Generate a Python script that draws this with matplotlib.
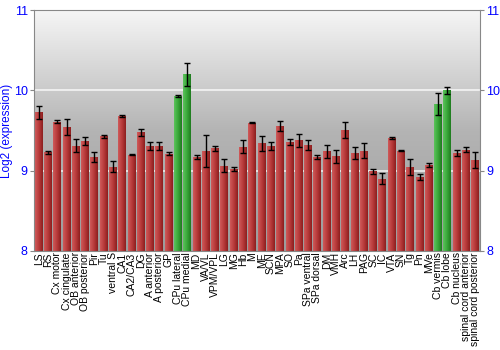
import matplotlib
matplotlib.use("Agg")
import matplotlib.pyplot as plt
import numpy as np

plt.rcParams['font.family'] = ['Liberation Sans', 'DejaVu Sans']

# 区域名称
regions = ["LS", "RS", "Cx motor", "Cx cingulate", "OB anterior", "OB posterior",
           "Pir", "Tu", "ventral S", "CA1", "CA2/CA3", "DG", "A anterior",
           "A posterior", "GP", "CPu lateral", "CPu medial", "MD", "VA/VL",
           "VPM/VPL", "LG", "MG", "Hb", "M", "ME", "SCN", "MPA", "SO", "Pa",
           "SPa ventral", "SPa dorsal", "DM", "VMH", "Arc", "LH", "PAG", "SC",
           "IC", "VTA", "SN", "Tg", "Pn", "MVe", "Cb vermis", "Cb lobe",
           "Cb nucleus", "spinal cord anterior", "spinal cord posterior"]

# 表达值 (log2)
values = [9.73, 9.23, 9.61, 9.54, 9.31, 9.37, 9.17, 9.43, 9.05, 9.68, 9.20, 9.48,
          9.31, 9.31, 9.21, 9.93, 10.20, 9.17, 9.24, 9.28, 9.06, 9.02, 9.30, 9.60,
          9.34, 9.31, 9.56, 9.36, 9.38, 9.32, 9.17, 9.24, 9.18, 9.51, 9.22, 9.25,
          8.99, 8.90, 9.41, 9.25, 9.04, 8.92, 9.07, 9.83, 10.00, 9.22, 9.26, 9.13]

# 误差
errors = [0.08, 0.02, 0.02, 0.10, 0.08, 0.05, 0.06, 0.02, 0.07, 0.01, 0.005, 0.045,
          0.05, 0.05, 0.02, 0.01, 0.14, 0.02, 0.20, 0.03, 0.08, 0.03, 0.08, 0.005,
          0.09, 0.05, 0.06, 0.04, 0.08, 0.06, 0.02, 0.08, 0.08, 0.10, 0.08, 0.09,
          0.03, 0.07, 0.01, 0.01, 0.10, 0.04, 0.03, 0.14, 0.04, 0.035, 0.03, 0.10]

# 高亮区域 (绿色)
highlight = ["CPu lateral", "CPu medial", "Cb vermis", "Cb lobe"]

fig = plt.figure(figsize=(5, 3.5), dpi=100)
ax = fig.add_axes([0.068, 0.283, 0.892, 0.688])

ymin, ymax = 8, 11
x = np.arange(len(regions))
xlo, xhi = -0.5, len(regions) - 0.5

# 背景渐变 (上浅下深)
grad = np.linspace(0, 1, 256).reshape(-1, 1)
bg_cmap = matplotlib.colors.LinearSegmentedColormap.from_list(
    "bg", ["#f6f6f6", "#b4b4b4", "#9c9c9c"])
ax.imshow(grad, aspect="auto", cmap=bg_cmap, extent=(xlo, xhi, ymin, ymax),
          origin="upper", zorder=0)

# 网格
for yv in [9, 10]:
    ax.axhline(yv, color="white", lw=1.2, alpha=0.8, zorder=1)

red_cmap = matplotlib.colors.LinearSegmentedColormap.from_list(
    "red", ["#cf5a5a", "#b83a3a", "#8c1e1e"])
green_cmap = matplotlib.colors.LinearSegmentedColormap.from_list(
    "green", ["#5cc45c", "#3aa83a", "#1e7a1e"])

bars = ax.bar(x, np.array(values) - ymin, bottom=ymin, width=0.86,
              color="none", edgecolor="none", zorder=2)
hgrad = np.linspace(0, 1, 64).reshape(1, -1)
for name, b in zip(regions, bars):
    cmap = green_cmap if name in highlight else red_cmap
    bx, by = b.get_x(), b.get_y()
    im = ax.imshow(hgrad, aspect="auto", cmap=cmap,
                   extent=(bx, bx + b.get_width(), by, by + b.get_height()),
                   zorder=2)
    im.set_clip_path(b)

ax.errorbar(x, values, yerr=errors, fmt="none", ecolor="black", elinewidth=1,
            capsize=2, capthick=1, zorder=3)

ax.set_xlim(xlo, xhi)
ax.set_ylim(ymin, ymax)

# 坐标轴
ax.set_xticks(x)
ax.set_xticklabels(regions, rotation=90, fontsize=7.5)
ax.tick_params(axis="x", length=0, pad=1)
ax.set_yticks([8, 9, 10, 11])
ax.tick_params(axis="y", colors="#888888", labelcolor="blue", labelsize=9,
               left=True, right=True, labelleft=True, labelright=True,
               length=3, pad=1.5)
ax.set_ylabel("Log2 (expression)", color="blue", fontsize=8.5, labelpad=0.5)
for s in ax.spines.values():
    s.set_color("#888888")

fig.savefig("out.png", dpi=100)
